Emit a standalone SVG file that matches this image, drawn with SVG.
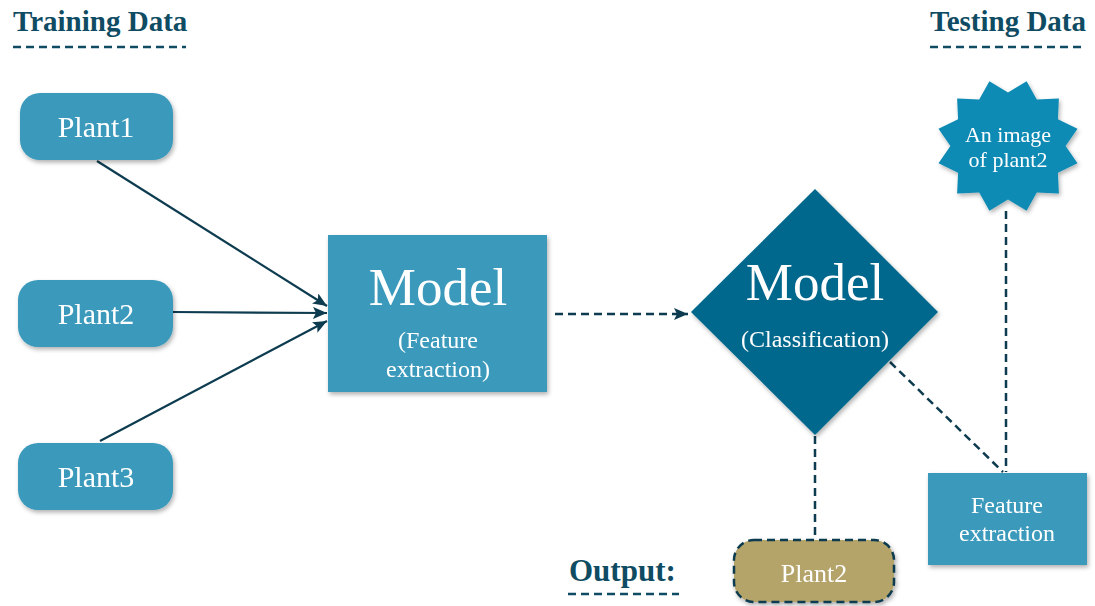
<svg xmlns="http://www.w3.org/2000/svg" width="1095" height="606" viewBox="0 0 1095 606">
<defs>
<style>
.title{font-family:"Liberation Serif","Times New Roman",serif;font-weight:bold;fill:#0F4C63;}
.lbl{font-family:"Liberation Serif","Times New Roman",serif;fill:#ffffff;text-anchor:middle;}
.plant{fill:#3A9ABB;}
.conn{stroke:#0D3B4F;stroke-width:2.2;fill:none;}
.dash{stroke:#0D3B4F;stroke-width:2.5;fill:none;stroke-dasharray:8 5;}
.uline{stroke:#0F4C63;stroke-width:2.5;fill:none;stroke-dasharray:8 5;}
</style>
<marker id="ah" markerUnits="userSpaceOnUse" markerWidth="16" markerHeight="12" refX="14" refY="6" orient="auto">
<path d="M0,0 L14,6 L0,12 L3,6 Z" fill="#0D3B4F"/>
</marker>
<filter id="sh" x="-10%" y="-10%" width="130%" height="130%">
<feDropShadow dx="1.5" dy="2.5" stdDeviation="2" flood-color="#000" flood-opacity="0.3"/>
</filter>
</defs>
<rect width="1095" height="606" fill="#ffffff"/>

<g id="title-training">
<text class="title" x="13" y="31" font-size="29">Training Data</text>
<line class="uline" x1="13" y1="47" x2="186" y2="47"/>
</g>
<g id="title-testing">
<text class="title" x="930" y="31" font-size="29">Testing Data</text>
<line class="uline" x1="930" y1="47" x2="1086" y2="47"/>
</g>

<g id="connectors">
<line class="conn" x1="97" y1="161" x2="327" y2="306" marker-end="url(#ah)"/>
<line class="conn" x1="173" y1="312" x2="327" y2="313" marker-end="url(#ah)"/>
<line class="conn" x1="100" y1="441" x2="327" y2="321" marker-end="url(#ah)"/>
<line class="dash" x1="555" y1="314" x2="688" y2="314" marker-end="url(#ah)"/>
<line class="dash" x1="815" y1="436" x2="815" y2="539"/>
<line class="dash" x1="890" y1="362" x2="1003" y2="472"/>
<line class="dash" x1="1006" y1="211" x2="1006" y2="472"/>
</g>

<g id="plant1" filter="url(#sh)">
<rect class="plant" x="20" y="93" width="153" height="67" rx="20"/>
<text class="lbl" x="96" y="137" font-size="30">Plant1</text>
</g>
<g id="plant2" filter="url(#sh)">
<rect class="plant" x="18" y="280" width="155" height="67" rx="20"/>
<text class="lbl" x="96" y="324" font-size="30">Plant2</text>
</g>
<g id="plant3" filter="url(#sh)">
<rect class="plant" x="18" y="443" width="155" height="67" rx="20"/>
<text class="lbl" x="96" y="487" font-size="30">Plant3</text>
</g>

<g id="model-feature" filter="url(#sh)">
<rect x="328" y="235" width="219" height="157" fill="#3A9ABB"/>
<text class="lbl" x="438" y="305" font-size="53">Model</text>
<text class="lbl" x="438" y="348" font-size="24">(Feature</text>
<text class="lbl" x="438" y="377" font-size="24">extraction)</text>
</g>

<g id="model-classification" filter="url(#sh)">
<polygon points="815,189 938,312 815,435 691,312" fill="#06688C"/>
<text class="lbl" x="815" y="300" font-size="53">Model</text>
<text class="lbl" x="815" y="347" font-size="24">(Classification)</text>
</g>

<g id="image-plant2" filter="url(#sh)">
<polygon fill="#0E8BB4" points="1008,92.4 1026.6,81.3 1036.8,99.6 1058.9,98.6 1057.9,119.2 1077.5,128.7 1065.6,146 1077.5,163.3 1057.9,172.8 1058.9,193.4 1036.8,192.4 1026.6,210.7 1008,199.6 989.4,210.7 979.2,192.4 957.1,193.4 958.1,172.8 938.5,163.3 950.4,146 938.5,128.7 958.1,119.2 957.1,98.6 979.2,99.6 989.4,81.3"/>
<text class="lbl" x="1008" y="142" font-size="22">An image</text>
<text class="lbl" x="1008" y="167" font-size="22">of plant2</text>
</g>

<g id="feature-extraction" filter="url(#sh)">
<rect x="928" y="473" width="159" height="92" fill="#3A9ABB"/>
<text class="lbl" x="1007" y="513" font-size="24">Feature</text>
<text class="lbl" x="1007" y="541" font-size="24">extraction</text>
</g>

<g id="output-label">
<text class="title" x="569" y="581" font-size="31">Output:</text>
<line class="uline" x1="568" y1="594" x2="679" y2="594"/>
</g>

<g id="output-plant2" filter="url(#sh)">
<rect x="734" y="540" width="160" height="62" rx="20" fill="#B5A46A" stroke="#0D3B4F" stroke-width="2.5" stroke-dasharray="8 5"/>
<text class="lbl" x="814" y="582" font-size="26" fill="#F5F0E0">Plant2</text>
</g>
</svg>
